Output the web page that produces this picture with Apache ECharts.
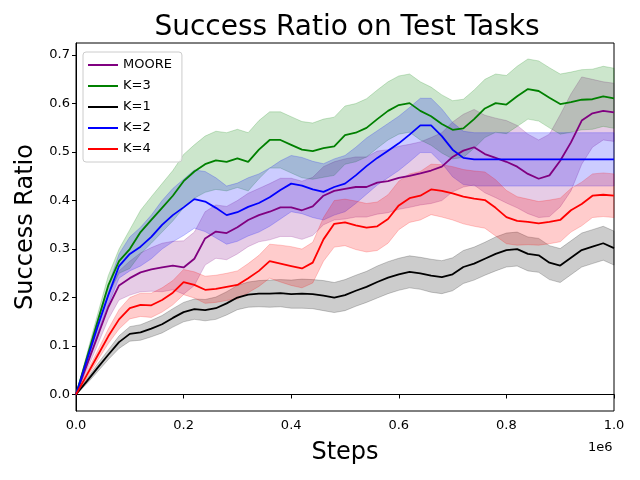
<!DOCTYPE html>
<html>
<head>
<meta charset="utf-8">
<script src="https://cdn.jsdelivr.net/npm/echarts@6/dist/echarts.min.js"></script>
<style>
html, body { margin: 0; padding: 0; background: #fff; }
#chart { width: 640px; height: 480px; }
</style>
</head>
<body>
<div id="chart"></div>
<script>
// 训练步数 (x)
var steps = [0, 20000, 40000, 60000, 80000, 100000, 120000, 140000, 160000, 180000,
    200000, 220000, 240000, 260000, 280000, 300000, 320000, 340000, 360000, 380000,
    400000, 420000, 440000, 460000, 480000, 500000, 520000, 540000, 560000, 580000,
    600000, 620000, 640000, 660000, 680000, 700000, 720000, 740000, 760000, 780000,
    800000, 820000, 840000, 860000, 880000, 900000, 920000, 940000, 960000, 980000, 1000000];

// 各方法均值
var mooreMean = [0, 0.06, 0.12, 0.18, 0.225, 0.24, 0.252, 0.258, 0.262, 0.266,
    0.262, 0.28, 0.322, 0.336, 0.333, 0.345, 0.36, 0.37, 0.377, 0.386,
    0.386, 0.38, 0.388, 0.41, 0.42, 0.424, 0.428, 0.428, 0.437, 0.44,
    0.447, 0.451, 0.456, 0.462, 0.47, 0.49, 0.503, 0.51, 0.496, 0.488,
    0.48, 0.47, 0.455, 0.445, 0.452, 0.482, 0.52, 0.565, 0.58, 0.585, 0.582];
var k3Mean = [0, 0.075, 0.15, 0.225, 0.275, 0.3, 0.335, 0.36, 0.385, 0.41,
    0.44, 0.46, 0.475, 0.483, 0.48, 0.487, 0.48, 0.505, 0.525, 0.525,
    0.515, 0.505, 0.502, 0.508, 0.512, 0.535, 0.54, 0.55, 0.568, 0.585,
    0.597, 0.601, 0.585, 0.574, 0.558, 0.546, 0.549, 0.568, 0.59, 0.601,
    0.598, 0.615, 0.63, 0.626, 0.612, 0.599, 0.603, 0.608, 0.609, 0.615, 0.611];
var k1Mean = [0, 0.027, 0.055, 0.082, 0.108, 0.125, 0.128, 0.136, 0.145, 0.158,
    0.17, 0.176, 0.174, 0.178, 0.188, 0.2, 0.206, 0.208, 0.208, 0.209,
    0.207, 0.208, 0.207, 0.204, 0.2, 0.205, 0.214, 0.222, 0.232, 0.241,
    0.248, 0.253, 0.25, 0.245, 0.242, 0.248, 0.263, 0.27, 0.28, 0.29,
    0.298, 0.3, 0.29, 0.287, 0.272, 0.266, 0.282, 0.298, 0.305, 0.312, 0.302];
var k2Mean = [0, 0.07, 0.14, 0.205, 0.265, 0.29, 0.305, 0.325, 0.35, 0.37,
    0.386, 0.403, 0.398, 0.385, 0.37, 0.376, 0.387, 0.395, 0.407, 0.422,
    0.435, 0.431, 0.423, 0.418, 0.428, 0.435, 0.452, 0.471, 0.488, 0.503,
    0.518, 0.536, 0.555, 0.555, 0.533, 0.505, 0.488, 0.485, 0.485, 0.485,
    0.485, 0.485, 0.485, 0.485, 0.485, 0.485, 0.485, 0.485, 0.485, 0.485, 0.485];
var k4Mean = [0, 0.04, 0.08, 0.12, 0.155, 0.178, 0.185, 0.184, 0.195, 0.21,
    0.232, 0.226, 0.216, 0.218, 0.222, 0.226, 0.24, 0.255, 0.275, 0.27,
    0.265, 0.26, 0.272, 0.32, 0.352, 0.355, 0.349, 0.344, 0.347, 0.362,
    0.39, 0.405, 0.41, 0.423, 0.42, 0.415, 0.408, 0.404, 0.401, 0.385,
    0.366, 0.358, 0.356, 0.353, 0.356, 0.36, 0.38, 0.393, 0.41, 0.412, 0.41];

// 阴影带半宽
var mooreStd = [0, 0.01, 0.018, 0.025, 0.03, 0.035, 0.04, 0.045, 0.05, 0.05,
    0.055, 0.055, 0.055, 0.055, 0.055, 0.055, 0.055, 0.055, 0.058, 0.06,
    0.06, 0.06, 0.06, 0.06, 0.06, 0.062, 0.062, 0.062, 0.065, 0.065,
    0.065, 0.065, 0.065, 0.068, 0.07, 0.072, 0.075, 0.078, 0.08, 0.082,
    0.085, 0.085, 0.082, 0.08, 0.085, 0.095, 0.1, 0.09, 0.07, 0.06, 0.06];
var k3Std = [0, 0.008, 0.015, 0.02, 0.025, 0.04, 0.045, 0.048, 0.05, 0.052,
    0.055, 0.055, 0.058, 0.06, 0.06, 0.06, 0.06, 0.06, 0.058, 0.058,
    0.058, 0.058, 0.058, 0.06, 0.06, 0.06, 0.06, 0.06, 0.06, 0.06,
    0.06, 0.06, 0.06, 0.06, 0.06, 0.06, 0.06, 0.06, 0.06, 0.06,
    0.06, 0.062, 0.062, 0.062, 0.062, 0.062, 0.062, 0.062, 0.062, 0.062, 0.062];
var k1Std = [0, 0.005, 0.008, 0.01, 0.013, 0.015, 0.016, 0.017, 0.018, 0.019,
    0.02, 0.021, 0.022, 0.023, 0.024, 0.025, 0.026, 0.027, 0.028, 0.028,
    0.029, 0.03, 0.03, 0.031, 0.031, 0.032, 0.032, 0.032, 0.033, 0.033,
    0.033, 0.033, 0.033, 0.034, 0.034, 0.034, 0.034, 0.034, 0.034, 0.035,
    0.035, 0.035, 0.035, 0.035, 0.035, 0.035, 0.035, 0.035, 0.035, 0.035, 0.035];
var k2Std = [0, 0.008, 0.015, 0.02, 0.025, 0.035, 0.04, 0.045, 0.05, 0.055,
    0.058, 0.06, 0.062, 0.062, 0.06, 0.06, 0.06, 0.06, 0.06, 0.06,
    0.058, 0.058, 0.058, 0.058, 0.058, 0.058, 0.058, 0.058, 0.056, 0.056,
    0.056, 0.056, 0.056, 0.056, 0.056, 0.056, 0.055, 0.055, 0.055, 0.055,
    0.055, 0.055, 0.055, 0.055, 0.055, 0.055, 0.055, 0.055, 0.055, 0.055, 0.055];
var k4Std = [0, 0.006, 0.01, 0.015, 0.02, 0.022, 0.024, 0.025, 0.025, 0.025,
    0.026, 0.027, 0.028, 0.028, 0.028, 0.029, 0.03, 0.032, 0.035, 0.038,
    0.04, 0.04, 0.042, 0.045, 0.048, 0.048, 0.05, 0.05, 0.05, 0.05,
    0.05, 0.05, 0.05, 0.052, 0.054, 0.055, 0.056, 0.057, 0.058, 0.058,
    0.055, 0.05, 0.047, 0.045, 0.045, 0.045, 0.045, 0.045, 0.045, 0.045, 0.045];

var names = ['MOORE', 'K=3', 'K=1', 'K=2', 'K=4'];
var xTicks = [0, 200000, 400000, 600000, 800000, 1000000];
var yTicks = [0, 0.1, 0.2, 0.3, 0.4, 0.5, 0.6, 0.7];

var runs = [
    {name: 'MOORE', mean: mooreMean, std: mooreStd, color: '#800080', fill: 'rgba(128,0,128,0.2)'},
    {name: 'K=3', mean: k3Mean, std: k3Std, color: '#008000', fill: 'rgba(0,128,0,0.2)'},
    {name: 'K=1', mean: k1Mean, std: k1Std, color: '#000000', fill: 'rgba(0,0,0,0.2)'},
    {name: 'K=2', mean: k2Mean, std: k2Std, color: '#0000ff', fill: 'rgba(0,0,255,0.2)'},
    {name: 'K=4', mean: k4Mean, std: k4Std, color: '#ff0000', fill: 'rgba(255,0,0,0.2)'}
];

var font = 'DejaVu Sans';

// 阴影带: 用 custom 系列画多边形 (上边界 + 反向下边界)
function bandSeries(r) {
    return {
        name: r.name + '_band', type: 'custom', silent: true, z: 1,
        data: [[steps[0], r.mean[0]]],
        renderItem: function (params, api) {
            var pts = [];
            for (var i = 0; i < steps.length; i++) {
                pts.push(api.coord([steps[i], r.mean[i] + r.std[i]]));
            }
            for (var j = steps.length - 1; j >= 0; j--) {
                pts.push(api.coord([steps[j], r.mean[j] - r.std[j]]));
            }
            return {
                type: 'polygon',
                shape: {points: pts},
                style: {fill: r.fill, stroke: r.fill, lineWidth: 1}
            };
        }
    };
}

var series = [];
runs.forEach(function (r) {
    series.push(bandSeries(r));
});
runs.forEach(function (r) {
    var line = [];
    for (var i = 0; i < steps.length; i++) {
        line.push([steps[i], r.mean[i]]);
    }
    series.push({
        name: r.name, type: 'line', data: line, symbol: 'none', z: 3,
        color: r.color,
        lineStyle: {color: r.color, width: 1.8}
    });
});

var chart = echarts.init(document.getElementById('chart'));
chart.setOption({
    animation: false,
    backgroundColor: '#ffffff',
    title: [
        {
            text: 'Success Ratio on Test Tasks',
            left: 347, top: 14, padding: 0, textAlign: 'center',
            textStyle: {fontFamily: font, fontSize: 28, fontWeight: 'normal', color: '#000'}
        },
        {
            text: '1e6',
            left: 588, top: 441, padding: 0,
            textStyle: {fontFamily: font, fontSize: 13, fontWeight: 'normal', color: '#000'}
        }
    ],
    legend: {
        data: names,
        orient: 'vertical',
        left: 83, top: 52,
        icon: 'rect',
        itemWidth: 30, itemHeight: 2, itemGap: 7,
        padding: [6, 10, 6, 5],
        borderColor: '#cccccc', borderWidth: 1, borderRadius: 3,
        backgroundColor: 'rgba(255,255,255,0.8)',
        textStyle: {fontFamily: font, fontSize: 13, color: '#000', lineHeight: 14}
    },
    grid: {
        left: 76, right: 26, top: 43, bottom: 69,
        show: true, borderColor: '#000', borderWidth: 1, backgroundColor: 'transparent'
    },
    xAxis: {
        type: 'value', min: 0, max: 1000000,
        name: 'Steps', nameLocation: 'middle', nameGap: 30,
        nameTextStyle: {fontFamily: font, fontSize: 24, color: '#000'},
        axisLine: {show: true, lineStyle: {color: '#000', width: 1}},
        axisTick: {show: true, inside: false, length: 4, customValues: xTicks, lineStyle: {color: '#000'}},
        axisLabel: {
            customValues: xTicks, margin: 8,
            fontFamily: font, fontSize: 13, color: '#000',
            formatter: function (v) { return (v / 1e6).toFixed(1); }
        },
        splitLine: {show: false}
    },
    yAxis: {
        type: 'value', min: -0.034, max: 0.725,
        name: 'Success Ratio', nameLocation: 'middle', nameGap: 38, nameRotate: 90,
        nameTextStyle: {fontFamily: font, fontSize: 24, color: '#000'},
        axisLine: {show: true, lineStyle: {color: '#000', width: 1}},
        axisTick: {show: true, inside: false, length: 4, customValues: yTicks, lineStyle: {color: '#000'}},
        axisLabel: {
            customValues: yTicks, margin: 6,
            fontFamily: font, fontSize: 13, color: '#000',
            formatter: function (v) { return v.toFixed(1); }
        },
        splitLine: {show: false}
    },
    series: series
});
</script>
</body>
</html>
